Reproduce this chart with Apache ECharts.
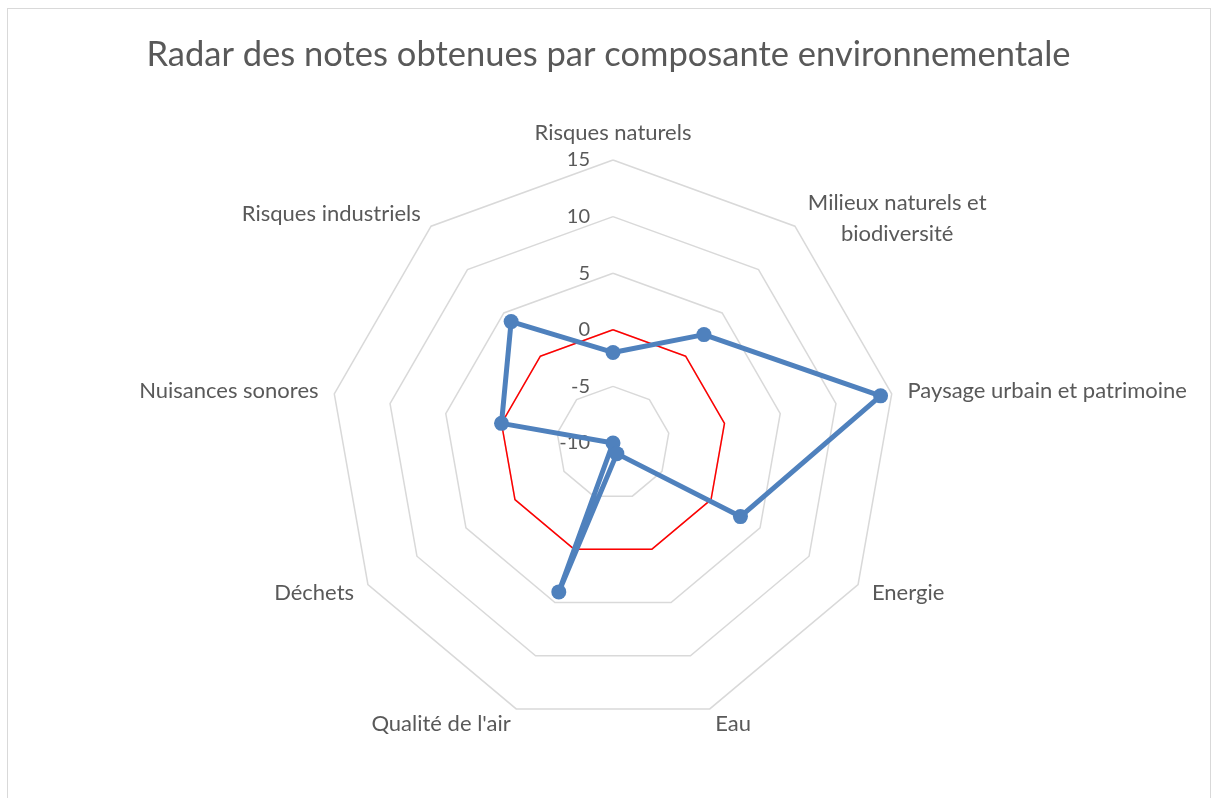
<!DOCTYPE html>
<html>
<head>
<meta charset="utf-8">
<script src="https://cdn.jsdelivr.net/npm/echarts@6/dist/echarts.min.js"></script>
<style>
html,body{margin:0;padding:0;background:#fff;}
#chart{position:absolute;left:0;top:0;width:1217px;height:798px;}
#frame{position:absolute;left:7px;top:8px;width:1202px;height:820px;border:1.5px solid #d9d9d9;pointer-events:none;}
</style>
</head>
<body>
<div id="chart"></div>
<div id="frame"></div>
<script>
// Data (clockwise order, starting from top)
const categories = [
  "Risques naturels",
  "Milieux naturels et\nbiodiversité",
  "Paysage urbain et patrimoine",
  "Energie",
  "Eau",
  "Qualité de l'air",
  "Déchets",
  "Nuisances sonores",
  "Risques industriels"
];
const notes = [-2, 2.5, 14, 3, -9, 4, -10, 0, 4];
const reference = [0, 0, 0, 0, 0, 0, 0, 0, 0];
const axisMin = -10;
const axisMax = 15;
const titleText = "Radar des notes obtenues par composante environnementale";

// ECharts lays indicators out counter-clockwise: reorder to get clockwise layout
const order = [0].concat(categories.map((_, i) => i).slice(1).reverse());
const FONT = 'Lato';
const indicators = order.map((i, k) => {
  const ind = { name: categories[i], min: axisMin, max: axisMax };
  if (k === 0) {
    ind.axisLabel = { show: true, color: '#595959', fontSize: 20, fontFamily: FONT, margin: 23 };
  }
  return ind;
});
const reorder = arr => order.map(i => arr[i]);

const chart = echarts.init(document.getElementById('chart'), null, { renderer: 'canvas' });
chart.setOption({
  backgroundColor: '#ffffff',
  animation: false,
  title: {
    text: titleText,
    left: 'center',
    top: 32,
    textStyle: { color: '#595959', fontSize: 34.5, fontWeight: 'normal', fontFamily: FONT }
  },
  radar: {
    center: [613, 443],
    radius: 283,
    shape: 'polygon',
    splitNumber: 5,
    startAngle: 90,
    indicator: indicators,
    axisName: {
      color: '#595959',
      fontSize: 22,
      fontFamily: FONT,
      formatter: function (name) {
        if (name.indexOf('\n') >= 0) {
          return name.split('\n').map(s => '{c|' + s + '}').join('\n');
        }
        return name;
      },
      rich: {
        c: { width: 184, align: 'center', color: '#595959', fontSize: 22, fontFamily: FONT, lineHeight: 31, padding: [8, 0, 0, 0] }
      }
    },
    nameGap: 16,
    axisLine: { show: false },
    axisTick: { show: false },
    axisLabel: { show: false },
    splitLine: { lineStyle: { color: '#d9d9d9', width: 1.5 } },
    splitArea: { show: false }
  },
  series: [{
    type: 'radar',
    data: [
      {
        value: reorder(reference),
        name: 'Référence',
        symbol: 'none',
        lineStyle: { color: '#ff0000', width: 1.5 },
        itemStyle: { color: '#ff0000' }
      },
      {
        value: reorder(notes),
        name: 'Notes',
        symbol: 'circle',
        symbolSize: 15,
        lineStyle: { color: '#4f81bd', width: 5 },
        itemStyle: { color: '#4f81bd' }
      }
    ]
  }]
});
</script>
</body>
</html>
